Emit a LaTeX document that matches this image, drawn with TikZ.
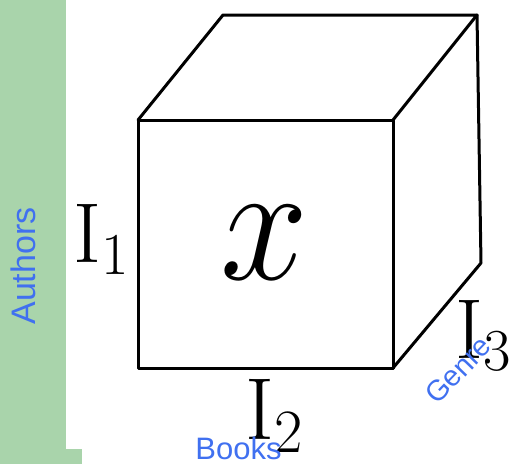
\documentclass[tikz,border=0pt]{standalone}
\usepackage{fix-cm}
\usepackage{fontspec}
\newfontfamily\labfont{Liberation Sans}
\definecolor{barGreen}{RGB}{169,212,171}
\definecolor{labBlue}{RGB}{64,112,240}
\begin{document}
\begin{tikzpicture}[x=1pt,y=-1pt,
  edge/.style={line width=3pt,line join=round,line cap=round},
  axislab/.style={text=labBlue,font=\labfont\fontsize{31}{34}\selectfont,inner sep=0pt},
  idx/.style={inner sep=0pt,anchor=base west}]
\useasboundingbox (0,0) rectangle (512,464);
% green side bar
\fill[barGreen] (0,0) rectangle (66,449);
\fill[barGreen] (0,449) rectangle (82,464);
% cube corners
\coordinate (ftl) at (138,120);
\coordinate (ftr) at (393,120);
\coordinate (fbr) at (393,368);
\coordinate (fbl) at (138,368);
\coordinate (btl) at (223,15);
\coordinate (btr) at (477,15);
\coordinate (bbr) at (481,263);
% cube edges
\draw[edge] (ftl) -- (ftr) -- (fbr) -- (fbl) -- cycle;
\draw[edge] (ftl) -- (btl) -- (btr) -- (ftr);
\draw[edge] (btr) -- (bbr) -- (fbr);
% labels
\node[inner sep=0pt] (xlab) at (264.5,242.5)
  {\scalebox{1}[1.08]{\fontsize{158}{165}\selectfont$x$}};
\node[idx,font=\fontsize{85}{90}\selectfont] (ione) at (73,262) {$\mathrm{I}_1$};
\node[idx,font=\fontsize{88}{92}\selectfont] (itwo) at (245,439) {$\mathrm{I}_2$};
\node[idx,font=\fontsize{85}{90}\selectfont] (ithree) at (455,358) {$\mathrm{I}_3$};
\node[axislab,font=\labfont\fontsize{34}{36}\selectfont,rotate=90] (authors) at (23.5,266) {Authors};
\node[axislab] (books) at (238.5,448) {Books};
\node[axislab,font=\labfont\fontsize{29}{32}\selectfont,rotate=46] (genre) at (458,370) {Genre};
\end{tikzpicture}
\end{document}
